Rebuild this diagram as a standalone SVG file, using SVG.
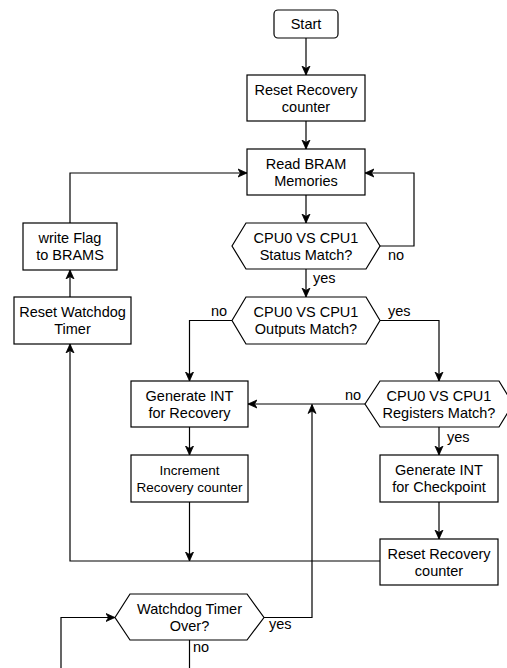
<svg xmlns="http://www.w3.org/2000/svg" width="507" height="668" viewBox="0 0 507 668">
<style>
.n{fill:#fff;stroke:#000;stroke-width:1.2}
.t{font-family:"Liberation Sans",Arial,sans-serif;font-size:14.5px;fill:#000;text-anchor:middle;dominant-baseline:central}
.l{font-family:"Liberation Sans",Arial,sans-serif;font-size:14.5px;fill:#000;dominant-baseline:central}
.c{fill:none;stroke:#000;stroke-width:1.2}
</style>
<defs>
<marker id="a" markerUnits="userSpaceOnUse" markerWidth="10" markerHeight="10" refX="9" refY="5" orient="auto">
<path d="M0,1 L9,5 L0,9 L2.5,5 Z" fill="#000" stroke="#000" stroke-width="0.8"/>
</marker>
</defs>
<rect width="507" height="668" fill="#fff"/>
<g id="connectors">
<path class="c" d="M306,38 V75" marker-end="url(#a)"/>
<path class="c" d="M306,121 V149" marker-end="url(#a)"/>
<path class="c" d="M306,195 V223" marker-end="url(#a)"/>
<path class="c" d="M380,246 H414 V173 H365" marker-end="url(#a)"/>
<path class="c" d="M306,269 V297" marker-end="url(#a)"/>
<path class="c" d="M232,320.5 H189.5 V381" marker-end="url(#a)"/>
<path class="c" d="M380,320.5 H439 V381" marker-end="url(#a)"/>
<path class="c" d="M365,404 H248" marker-end="url(#a)"/>
<path class="c" d="M439,427 V455" marker-end="url(#a)"/>
<path class="c" d="M439,502 V539" marker-end="url(#a)"/>
<path class="c" d="M189.5,427 V455" marker-end="url(#a)"/>
<path class="c" d="M189.5,502 V561" marker-end="url(#a)"/>
<path class="c" d="M380,561 H70 V344" marker-end="url(#a)"/>
<path class="c" d="M70,297 V270" marker-end="url(#a)"/>
<path class="c" d="M70,223 V173 H247" marker-end="url(#a)"/>
<path class="c" d="M264,617.5 H312 V404.5" marker-end="url(#a)"/>
<path class="c" d="M61,668 V617.5 H115" marker-end="url(#a)"/>
<path class="c" d="M189.5,640 V668"/>
<text class="l" x="388" y="255">no</text>
<text class="l" x="313" y="278">yes</text>
<text class="l" x="211" y="311">no</text>
<text class="l" x="388" y="311">yes</text>
<text class="l" x="345" y="395">no</text>
<text class="l" x="447" y="437">yes</text>
<text class="l" x="269" y="624">yes</text>
<text class="l" x="193" y="647">no</text>
</g>
<g id="start"><rect class="n" x="274" y="10" width="64" height="28" rx="4"/><text class="t" x="306" y="24">Start</text></g>
<g id="reset1"><rect class="n" x="247" y="75" width="118" height="46"/><text class="t" x="306" y="89.5">Reset Recovery</text><text class="t" x="306" y="106.5">counter</text></g>
<g id="readbram"><rect class="n" x="247" y="149" width="118" height="46"/><text class="t" x="306" y="163.5">Read BRAM</text><text class="t" x="306" y="180.5">Memories</text></g>
<g id="status"><polygon class="n" points="232,246 246,223 366,223 380,246 366,269 246,269"/><text class="t" x="306" y="237.5">CPU0 VS CPU1</text><text class="t" x="306" y="254.5">Status Match?</text></g>
<g id="outputs"><polygon class="n" points="232,320.5 246,297 366,297 380,320.5 366,344 246,344"/><text class="t" x="306" y="312">CPU0 VS CPU1</text><text class="t" x="306" y="329">Outputs Match?</text></g>
<g id="genrec"><rect class="n" x="131" y="381" width="117" height="46"/><text class="t" x="189.5" y="395.5">Generate INT</text><text class="t" x="189.5" y="412.5">for Recovery</text></g>
<g id="registers"><polygon class="n" points="365,404 380,381 499,381 513,404 499,427 380,427"/><text class="t" x="439" y="395.5">CPU0 VS CPU1</text><text class="t" x="439" y="412.5">Registers Match?</text></g>
<g id="increment"><rect class="n" x="131" y="455" width="117" height="47"/><text class="t" x="189.5" y="470" style="font-size:13.5px">Increment</text><text class="t" x="189.5" y="487" style="font-size:13.5px">Recovery counter</text></g>
<g id="genchk"><rect class="n" x="380" y="455" width="118" height="47"/><text class="t" x="439" y="470">Generate INT</text><text class="t" x="439" y="487">for Checkpoint</text></g>
<g id="reset2"><rect class="n" x="380" y="539" width="118" height="46"/><text class="t" x="439" y="553.5">Reset Recovery</text><text class="t" x="439" y="570.5">counter</text></g>
<g id="writeflag"><rect class="n" x="23" y="223" width="94" height="47"/><text class="t" x="70" y="238">write Flag</text><text class="t" x="70" y="255">to BRAMS</text></g>
<g id="resetwd"><rect class="n" x="14" y="297" width="117" height="47"/><text class="t" x="72.5" y="312">Reset Watchdog</text><text class="t" x="72.5" y="329">Timer</text></g>
<g id="watchdog"><polygon class="n" points="115,617.5 130,594 247,594 264,617.5 247,640 130,640"/><text class="t" x="189.5" y="609">Watchdog Timer</text><text class="t" x="189.5" y="626">Over?</text></g>
</svg>
